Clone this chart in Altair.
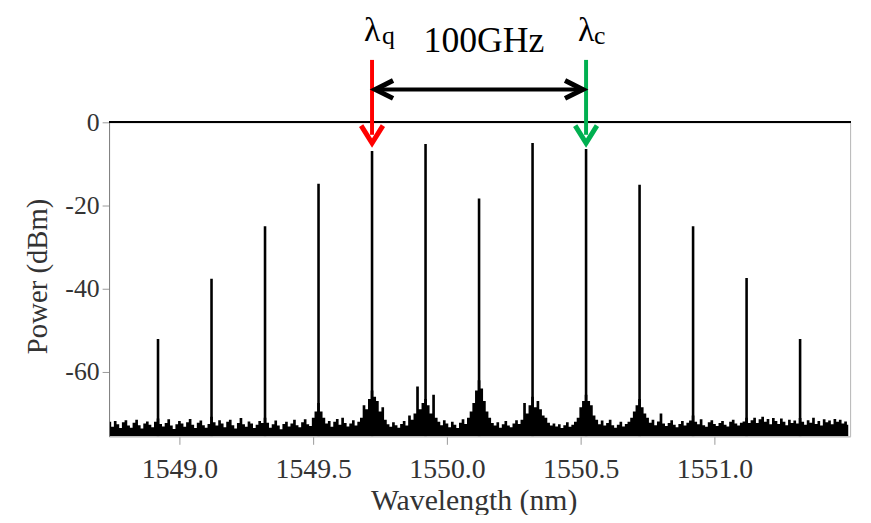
import altair as alt
import pandas as pd

# ---------------- data ----------------
peak_wavelengths = [1548.92, 1549.12, 1549.32, 1549.52, 1549.72, 1549.92, 1550.12,
                    1550.32, 1550.52, 1550.72, 1550.92, 1551.12, 1551.32]
peak_power = [-52.1, -37.6, -25.0, -14.8, -6.9, -5.2, -18.3,
              -5.0, -6.4, -15.0, -25.0, -37.4, -52.1]

floor_start = 1548.74
floor_step = 0.01
floor_power = [
    -72.0, -73.2, -71.8, -72.6, -73.5, -72.1, -71.6, -72.9, -73.4, -72.2,
    -71.5, -72.8, -73.6, -72.4, -71.9, -72.7, -73.3, -72.0, -71.2, -72.5,
    -73.1, -72.3, -71.4, -72.9, -73.7, -72.6, -71.8, -72.4, -73.2, -72.1,
    -71.3, -72.7, -73.5, -72.2, -71.7, -72.8, -73.4, -72.5, -70.8, -72.1,
    -72.9, -71.6, -72.4, -73.3, -72.0, -71.5, -72.8, -73.6, -72.3, -71.1,
    -72.6, -73.2, -71.9, -72.4, -73.5, -72.7, -71.8, -72.3, -71.0, -72.2,
    -73.4, -72.6, -71.7, -72.9, -73.8, -72.5, -72.0, -73.1, -72.4, -71.5,
    -72.8, -73.3, -72.1, -71.4, -72.6, -73.0, -71.0, -69.5, -67.5, -69.5,
    -71.0, -72.4, -71.8, -73.2, -72.0, -71.3, -72.7, -71.0, -72.3, -73.1,
    -72.4, -71.6, -72.9, -72.0, -71.0, -68.0, -69.0, -66.5, -64.5, -66.0,
    -67.0, -69.5, -68.5, -71.5, -72.6, -73.2, -72.1, -72.8, -73.4, -72.5,
    -71.8, -72.9, -70.5, -71.5, -70.0, -63.5, -69.0, -67.5, -66.5, -68.0,
    -70.0, -65.5, -71.0, -72.0, -72.8, -71.6, -72.4, -73.3, -72.0, -72.7,
    -73.5, -72.2, -71.4, -72.5, -71.0, -69.5, -67.5, -64.5, -62.0, -64.0,
    -67.0, -69.5, -71.0, -72.3, -72.9, -72.1, -73.4, -72.6, -71.8, -72.9,
    -73.3, -72.4, -71.6, -72.5, -71.5, -67.5, -70.0, -68.0, -66.0, -68.5,
    -67.0, -69.0, -70.5, -71.0, -72.2, -72.9, -72.4, -73.1, -72.6, -73.5,
    -72.8, -72.1, -73.2, -72.7, -72.0, -71.0, -68.5, -67.0, -65.5, -67.0,
    -68.0, -70.5, -71.5, -72.6, -71.7, -72.9, -72.3, -71.5, -72.8, -73.4,
    -72.7, -72.0, -73.1, -72.5, -72.0, -71.0, -69.5, -68.0, -66.5, -68.5,
    -70.0, -71.0, -72.2, -71.5, -72.8, -71.9, -70.0, -72.4, -73.0, -72.3,
    -71.6, -72.7, -73.3, -72.5, -71.8, -72.9, -72.2, -71.7, -70.5, -72.0,
    -72.6, -71.4, -72.8, -73.2, -72.1, -71.6, -72.5, -73.0, -72.3, -71.8,
    -72.7, -73.1, -72.0, -71.5, -72.4, -72.9, -72.2, -71.9, -71.0, -72.3,
    -71.6, -71.0, -72.3, -71.4, -70.8, -72.0, -71.3, -72.6, -71.1, -71.8,
    -72.5, -71.2, -72.0, -72.8, -71.5, -72.3, -71.7, -72.4, -71.1, -72.0,
    -72.7, -71.6, -72.2, -71.0, -72.5, -71.8, -72.9, -71.4, -72.1, -71.7,
    -72.6, -71.3, -72.0, -71.5, -72.4, -71.9, -72.7,
]

x_ticks = [1549.0, 1549.5, 1550.0, 1550.5, 1551.0]
y_ticks = [0, -20, -40, -60]
x_domain = [1548.737, 1551.507]
y_domain = [-75.5, 0]

lambda_q = 1549.72
lambda_c = 1550.52
arrow_top = 15.0      # dB (above plot)
arrow_tip = -5.0      # dB
spacing_level = 7.9   # dB
label_level = 19.5    # dB
gap_label_level = 16.9
gap_label = "100GHz"

# ---------------- tables ----------------
floor_df = pd.DataFrame({
    "wl": [round(floor_start + floor_step * i, 4) for i in range(len(floor_power))],
    "p": floor_power,
})
peak_df = pd.DataFrame({"wl": peak_wavelengths, "p": peak_power})

W, H = 748, 317
FONT = "Times New Roman"
TXT = "#333333"

xs = alt.Scale(domain=x_domain, nice=False, zero=False)
ys = alt.Scale(domain=y_domain, nice=False, zero=False)

x_axis = alt.Axis(values=x_ticks, format=".1f", title="Wavelength (nm)",
                  labelPadding=12, tickSize=8, domainColor="#c8c8c8",
                  titleY=74, titleX=368)
y_axis = alt.Axis(values=y_ticks, labelExpr="toString(datum.value)",
                  title="Power (dBm)", labelPadding=3, tickSize=7,
                  domainColor="#808080", titleX=-63, titleY=155, titleAngle=270)

floor = alt.Chart(floor_df).mark_area(interpolate="step", color="black", clip=True).encode(
    x=alt.X("wl:Q", scale=xs, axis=x_axis),
    y=alt.Y("p:Q", scale=ys, axis=y_axis, stack=None),
    y2=alt.Y2(datum=y_domain[0]),
)

peaks = alt.Chart(peak_df).mark_rule(color="black", strokeWidth=2.6, clip=True).encode(
    x=alt.X("wl:Q", scale=xs),
    y=alt.Y("p:Q", scale=ys),
    y2=alt.Y2(datum=y_domain[0]),
)

top_line = alt.Chart(floor_df).mark_rule(color="black", strokeWidth=1.5).encode(
    x=alt.value(0), x2=alt.value(W), y=alt.value(0)
)

ann = alt.Chart(pd.DataFrame({"a": [0]}))

def vshaft(wl, color):
    return ann.mark_rule(color=color, strokeWidth=4).encode(
        x=alt.X(datum=wl, scale=xs),
        y=alt.Y(datum=arrow_top, scale=ys),
        y2=alt.Y2(datum=arrow_tip + 2.0),
    )

def vhead(wl, color):
    return ann.mark_point(shape="M -1 -1.6 L 0 0 L 1 -1.6", size=484, filled=False,
                          stroke=color, strokeWidth=5, opacity=1).encode(
        x=alt.X(datum=wl, scale=xs),
        y=alt.Y(datum=arrow_tip, scale=ys),
    )

hshaft = ann.mark_rule(color="black", strokeWidth=4).encode(
    x=alt.X(datum=lambda_q + 0.012, scale=xs),
    x2=alt.X2(datum=lambda_c - 0.012),
    y=alt.Y(datum=spacing_level, scale=ys),
)
hhead_l = ann.mark_point(shape="M 2 -1 L 0 0 L 2 1", size=324, filled=False,
                         stroke="black", strokeWidth=5, opacity=1).encode(
    x=alt.X(datum=lambda_q + 0.012, scale=xs),
    y=alt.Y(datum=spacing_level, scale=ys),
)
hhead_r = ann.mark_point(shape="M -2 -1 L 0 0 L -2 1", size=324, filled=False,
                         stroke="black", strokeWidth=5, opacity=1).encode(
    x=alt.X(datum=lambda_c - 0.012, scale=xs),
    y=alt.Y(datum=spacing_level, scale=ys),
)

def lam(wl, sub, dx):
    main = ann.mark_text(text="λ", font=FONT, fontSize=34, color="black",
                         align="center", baseline="alphabetic").encode(
        x=alt.X(datum=wl, scale=xs),
        y=alt.Y(datum=label_level, scale=ys),
    )
    s = ann.mark_text(text=sub, font=FONT, fontSize=26, color="black",
                      align="left", baseline="alphabetic", dx=dx, dy=3).encode(
        x=alt.X(datum=wl, scale=xs),
        y=alt.Y(datum=label_level, scale=ys),
    )
    return main + s

gap_text = ann.mark_text(text=gap_label, font=FONT, fontSize=36, color="black",
                         align="center", baseline="alphabetic", dx=5).encode(
    x=alt.X(datum=(lambda_q + lambda_c) / 2, scale=xs),
    y=alt.Y(datum=gap_label_level, scale=ys),
)

chart = alt.layer(
    floor, peaks, top_line,
    vshaft(lambda_q, "#ff0000"), vhead(lambda_q, "#ff0000"),
    vshaft(lambda_c, "#00b050"), vhead(lambda_c, "#00b050"),
    hshaft, hhead_l, hhead_r,
    lam(lambda_q, "q", 10), lam(lambda_c, "c", 8),
    gap_text,
).properties(
    width=W, height=H,
    padding={"left": 102, "top": 113, "right": 13, "bottom": 77},
    autosize=alt.AutoSizeParams(type="none"),
    background="white",
).configure_view(
    stroke="#b4b4b4", strokeWidth=1
).configure_axis(
    grid=False, labelFont=FONT, labelColor=TXT, titleFont=FONT, titleColor=TXT,
    titleFontWeight="normal", titleBaseline="alphabetic", tickColor="#999999",
).configure_axisX(
    labelFontSize=28, titleFontSize=30,
).configure_axisY(
    labelFontSize=26, titleFontSize=29,
).configure_text(font=FONT)

chart.save("out.html", embed_options={"renderer": "svg", "actions": False})
